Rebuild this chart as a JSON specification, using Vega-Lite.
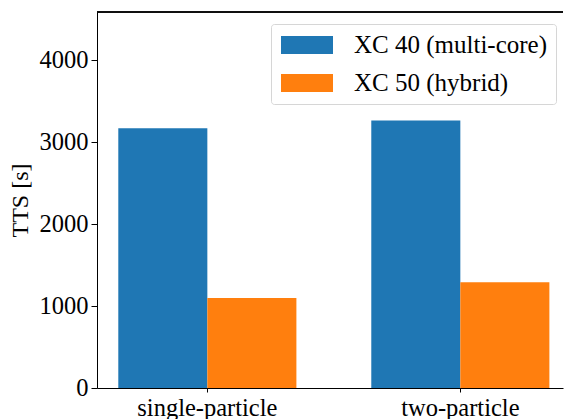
{
  "$schema": "https://vega.github.io/schema/vega-lite/v6.json",
  "autosize": "none",
  "width": 466,
  "height": 376,
  "padding": {"left": 97, "top": 12, "right": 2, "bottom": 31},
  "background": "white",
  "config": {
    "view": {"stroke": null},
    "font": "Liberation Serif",
    "axis": {"labelFont": "Liberation Serif", "titleFont": "Liberation Serif", "labelColor": "black", "titleColor": "black", "domainColor": "black", "tickColor": "black", "grid": false, "labelFontSize": 24.5, "titleFontSize": 24, "titleFontWeight": "normal", "tickSize": 5, "domainWidth": 1, "tickWidth": 1}
  },
  "data": {"values": [
    {"case": "single-particle", "system": "XC 40 (multi-core)", "tts": 3170},
    {"case": "single-particle", "system": "XC 50 (hybrid)", "tts": 1100},
    {"case": "two-particle", "system": "XC 40 (multi-core)", "tts": 3265},
    {"case": "two-particle", "system": "XC 50 (hybrid)", "tts": 1292}
  ]},
  "layer": [
    {
      "mark": {"type": "bar"},
      "encoding": {
        "x": {"field": "case", "type": "nominal", "sort": null,
          "scale": {"paddingInner": 0.296, "paddingOuter": 0.069, "align": 0.61},
          "axis": {"title": null, "labelAngle": 0, "labelPadding": 4, "tickSize": 4}},
        "xOffset": {"field": "system", "type": "nominal", "scale": {"paddingInner": 0, "paddingOuter": 0}},
        "y": {"field": "tts", "type": "quantitative",
          "scale": {"domain": [0, 4590], "nice": false, "zero": true},
          "axis": {"title": "TTS [s]", "values": [0, 1000, 2000, 3000, 4000], "format": "d", "tickSize": 6, "labelPadding": 3, "titlePadding": 7}},
        "color": {"field": "system", "type": "nominal",
          "scale": {"range": ["#1f77b4", "#ff7f0e"]},
          "legend": {"title": null, "orient": "none", "legendX": 174, "legendY": 12,
            "symbolType": "M-1,-0.69H3V0.69H-1Z", "symbolSize": 676, "symbolOpacity": 1,
            "symbolStrokeWidth": 0, "symbolOffset": 2, "labelFont": "Liberation Serif", "labelFontSize": 25, "labelColor": "black", "labelLimit": 0,
            "labelOffset": 47, "rowPadding": 12, "padding": 8,
            "fillColor": "rgba(255,255,255,0.8)", "strokeColor": "#d6d6d6", "cornerRadius": 3}}
      }
    },
    {
      "mark": {"type": "rule", "color": "black", "strokeWidth": 1},
      "encoding": {"y": {"datum": 4590}}
    }
  ]
}
